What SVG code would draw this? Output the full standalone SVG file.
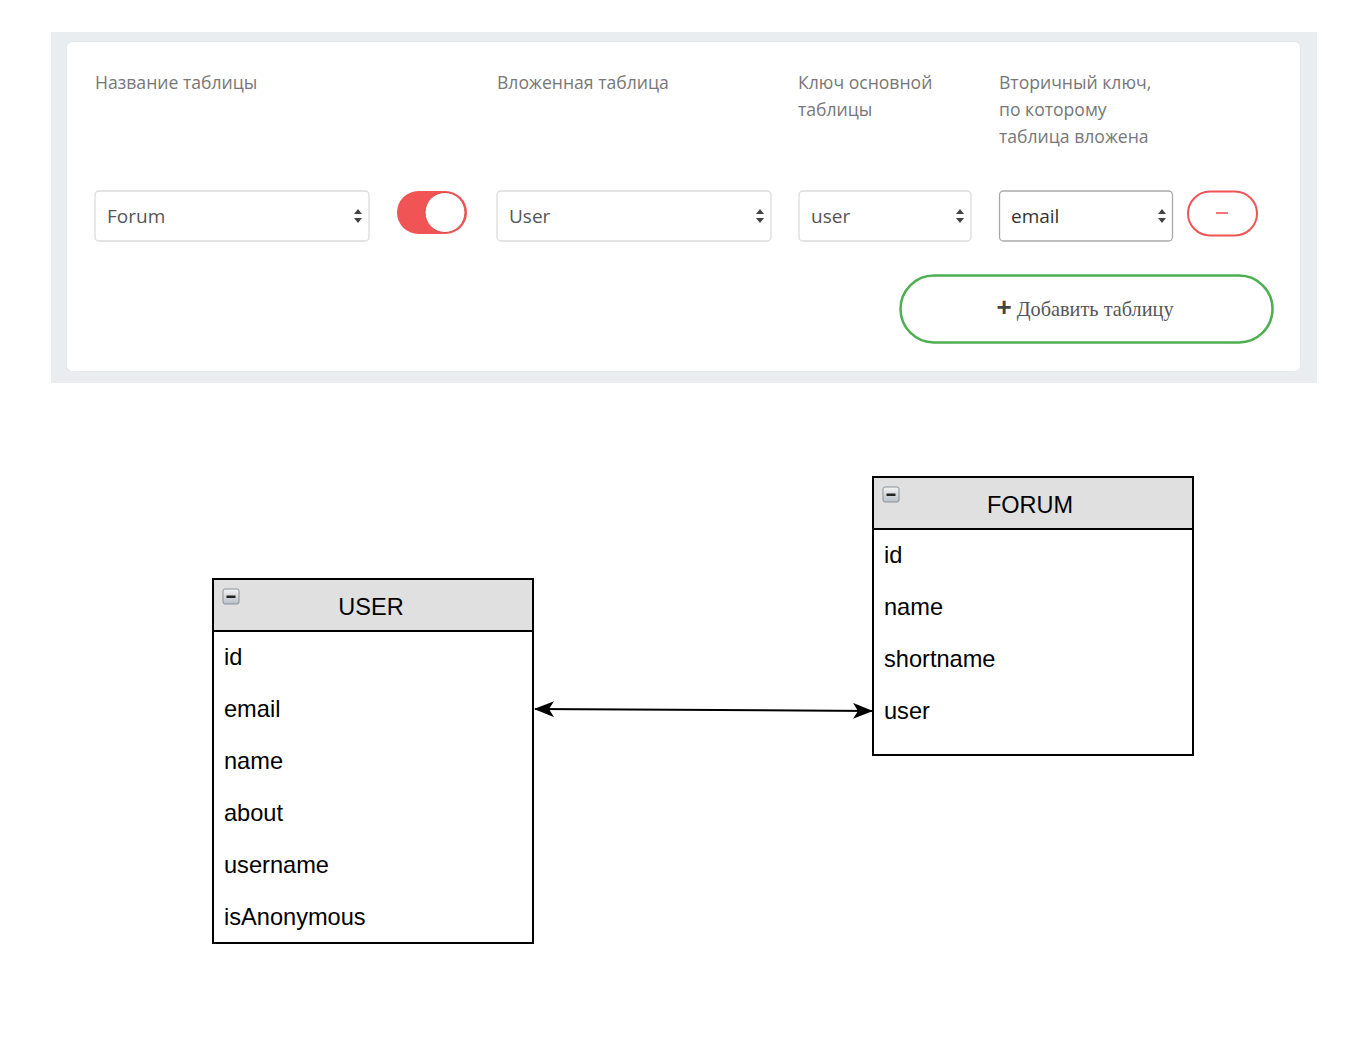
<svg xmlns="http://www.w3.org/2000/svg" width="1350" height="1038" viewBox="0 0 1350 1038">
<defs>
<style>
.lbl{font-family:"Open Sans","Noto Sans",sans-serif;font-size:17.6px;fill:#777}
.sel{fill:#fff;stroke:#dcdcdc;stroke-width:1.3}
.seltxt{font-family:"Open Sans","Noto Sans",sans-serif;font-size:19px;fill:#555}
.caret{fill:#444}
.ent{fill:#fff;stroke:#000;stroke-width:2}
.hdr{fill:#e0e0e0;stroke:#000;stroke-width:2}
.title{font-family:"Liberation Sans",Arial,sans-serif;font-size:23.5px;fill:#000;text-anchor:middle}
.fld{font-family:"Liberation Sans",Arial,sans-serif;font-size:23.6px;fill:#000}
.conn{stroke:#000;stroke-width:2;fill:none}
</style>
<marker id="ah" viewBox="0 0 20 16" refX="19" refY="8" markerWidth="20" markerHeight="16" markerUnits="userSpaceOnUse" orient="auto-start-reverse">
<path d="M0,0 L20,8 L0,16 L5,8 Z" fill="#000"/>
</marker>
<linearGradient id="ig" x1="0" y1="0" x2="0" y2="1">
<stop offset="0" stop-color="#f4f4f4"/><stop offset="1" stop-color="#b8c0c8"/>
</linearGradient>
<g id="caretg"><path d="M0,-7 L4,-2 L-4,-2 Z M0,7 L4,2 L-4,2 Z" class="caret"/></g>
<g id="icon"><rect x="0" y="0" width="16" height="15" rx="2" fill="url(#ig)" stroke="#8a9299" stroke-width="1"/><rect x="3.5" y="6.5" width="9" height="2.5" fill="#222"/></g>
</defs>
<rect width="1350" height="1038" fill="#fff"/>

<g id="form-panel">
<rect x="51" y="32" width="1266" height="351" fill="#e9edf0"/>
<rect x="66.5" y="41.5" width="1234" height="330" rx="6" fill="#fff" stroke="#e4e7ea"/>
</g>

<g id="labels">
<text class="lbl" x="95" y="89">Название таблицы</text>
<text class="lbl" x="497" y="89">Вложенная таблица</text>
<text class="lbl" x="798" y="89">Ключ основной</text>
<text class="lbl" x="798" y="116">таблицы</text>
<text class="lbl" x="999" y="89">Вторичный ключ,</text>
<text class="lbl" x="999" y="116">по которому</text>
<text class="lbl" x="999" y="143">таблица вложена</text>
</g>

<g id="select-forum">
<rect class="sel" x="95" y="191" width="274" height="50" rx="4"/>
<text class="seltxt" x="107" y="223">Forum</text>
<use href="#caretg" x="358" y="216"/>
</g>
<g id="toggle">
<rect x="397" y="191" width="70" height="43" rx="21.5" fill="#f05454"/>
<circle cx="445" cy="212.5" r="20" fill="#fff" stroke="#d94848" stroke-width="1"/>
</g>
<g id="select-user">
<rect class="sel" x="497" y="191" width="274" height="50" rx="4"/>
<text class="seltxt" x="509" y="223">User</text>
<use href="#caretg" x="760" y="216"/>
</g>
<g id="select-key">
<rect class="sel" x="799" y="191" width="172" height="50" rx="4"/>
<text class="seltxt" x="811" y="223">user</text>
<use href="#caretg" x="960" y="216"/>
</g>
<g id="select-email">
<rect x="999.5" y="191" width="173" height="50" rx="4" fill="#fff" stroke="#a9a9a9" stroke-width="1.3"/>
<text class="seltxt" x="1011" y="223" style="fill:#333">email</text>
<use href="#caretg" x="1162" y="216"/>
</g>
<g id="remove-btn">
<rect x="1188" y="191.5" width="69" height="44" rx="22" fill="#fff" stroke="#f05454" stroke-width="2"/>
<line x1="1216" y1="213" x2="1228" y2="213" stroke="#f05454" stroke-width="1.6"/>
</g>
<g id="add-btn">
<rect x="900.5" y="275.5" width="372" height="67" rx="33.5" fill="#fff" stroke="#4caf50" stroke-width="2.5"/>
<text x="1085" y="316" text-anchor="middle" font-family="'Liberation Serif','Times New Roman',serif" font-size="20.3" fill="#555"><tspan font-family="'Liberation Sans',Arial,sans-serif" font-size="26" font-weight="bold" fill="#444">+</tspan> Добавить таблицу</text>
</g>

<g id="entity-user">
<rect class="ent" x="213" y="579" width="320" height="364"/>
<rect class="hdr" x="213" y="579" width="320" height="52"/>
<use href="#icon" x="223" y="589"/>
<text class="title" x="371" y="615">USER</text>
<text class="fld" x="224" y="665">id</text>
<text class="fld" x="224" y="717">email</text>
<text class="fld" x="224" y="769">name</text>
<text class="fld" x="224" y="821">about</text>
<text class="fld" x="224" y="873">username</text>
<text class="fld" x="224" y="925">isAnonymous</text>
</g>

<g id="entity-forum">
<rect class="ent" x="873" y="477" width="320" height="278"/>
<rect class="hdr" x="873" y="477" width="320" height="52"/>
<use href="#icon" x="883" y="487"/>
<text class="title" x="1030" y="513">FORUM</text>
<text class="fld" x="884" y="563">id</text>
<text class="fld" x="884" y="615">name</text>
<text class="fld" x="884" y="667">shortname</text>
<text class="fld" x="884" y="719">user</text>
</g>

<g id="connectors">
<line class="conn" x1="535" y1="709" x2="872" y2="711" marker-start="url(#ah)" marker-end="url(#ah)"/>
</g>
</svg>
